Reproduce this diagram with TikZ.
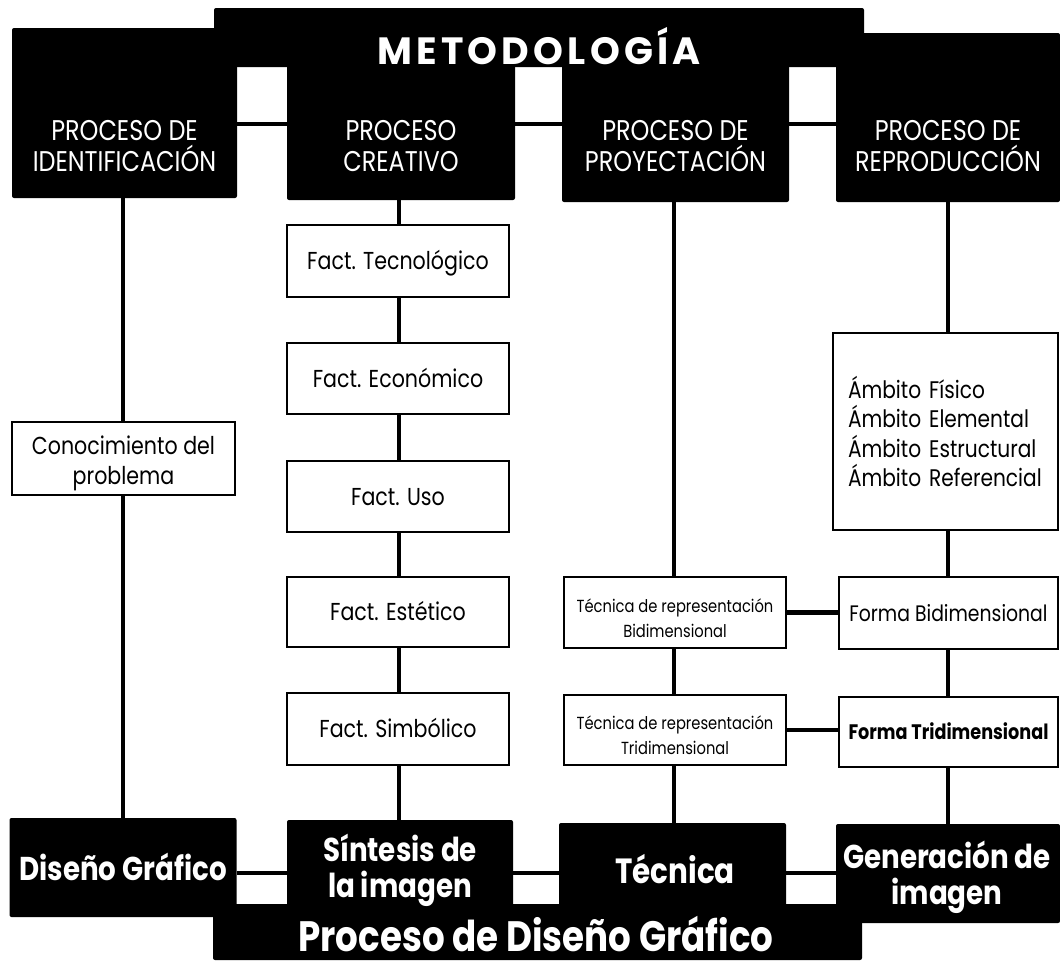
\documentclass[tikz,border=0pt]{standalone}
\usepackage{fontspec}
\setmainfont{Poppins}
\newfontfamily\fut[FakeStretch=0.84]{Poppins}
\begin{document}
\begin{tikzpicture}[x=1pt,y=-1pt,
  blk/.style={fill=black, draw=none, rounded corners=2pt, inner sep=0pt},
  wbox/.style={draw=black, line width=1.6pt, fill=white, inner sep=0pt, align=center,
    text height=17.5pt, text depth=0pt, font=\fut\fontsize{24.5}{30}\selectfont},
  conn/.style={line width=4.5pt},
  head/.style={text=white, align=center, inner sep=0pt, font=\fut\fontsize{28.5}{31}\selectfont},
  bhead/.style={text=white, align=center, inner sep=0pt, font=\fut\bfseries\fontsize{33}{36}\selectfont}]
\useasboundingbox (0,0) rectangle (1060,962);
\fill[white] (0,0) rectangle (1060,962);
% column coordinates
\coordinate (c1) at (123,0);
\coordinate (c2) at (399,0);
\coordinate (c3) at (674,0);
\coordinate (c4) at (948,0);
\coordinate (r1) at (0,124);
\coordinate (r2) at (0,873);
% black boxes
\node[blk, minimum width=650pt, minimum height=59pt] (met) at (539,37.5) {};
\node[blk, minimum width=225pt, minimum height=170pt] (idb) at (124.5,113) {};
\node[blk, minimum width=228pt, minimum height=140pt] (cre) at (401,130) {};
\node[blk, minimum width=227pt, minimum height=142pt] (pro) at (675.5,131) {};
\node[blk, minimum width=224pt, minimum height=169pt] (rep) at (948,117.5) {};
\node[blk, minimum width=649pt, minimum height=56pt] (bot) at (537.5,932) {};
\node[blk, minimum width=227pt, minimum height=99pt] (dg) at (123,867.5) {};
\node[blk, minimum width=226pt, minimum height=95pt] (sin) at (400,867.5) {};
\node[blk, minimum width=227pt, minimum height=92pt] (tec) at (672.5,869) {};
\node[blk, minimum width=224pt, minimum height=99pt] (gen) at (948,873.5) {};
% texts in black boxes
\node[text=white, inner sep=0pt, font=\bfseries\fontsize{38}{40}\selectfont\addfontfeatures{LetterSpace=11}] (metT) at (539,46) {METODOLOGÍA};
\node[head] (idT) at (124.5,146.5) {PROCESO DE\\IDENTIFICACIÓN};
\node[head] (creT) at (401,146.5) {PROCESO\\CREATIVO};
\node[head] (proT) at (675.5,146.5) {PROCESO DE\\PROYECTACIÓN};
\node[head] (repT) at (948,146.5) {PROCESO DE\\REPRODUCCIÓN};
\node[bhead] (dgT) at (123,867) {Diseño Gráfico};
\node[bhead] (sinT) at (400,870) {Síntesis de\\la imagen};
\node[bhead, font=\fut\bfseries\fontsize{35}{36}\selectfont] (tecT) at (675,869) {Técnica};
\node[bhead] (genT) at (947,877.5) {Generación de\\imagen};
\node[text=white, inner sep=0pt, text height=30pt, text depth=0pt, font=\fut\bfseries\fontsize{42.5}{44}\selectfont] (botT) at (536,936) {Proceso de Diseño Gráfico};
% white boxes
\node[wbox, minimum width=223pt, minimum height=73pt, text height=51pt] (con) at (123.5,458.5) {Conocimiento del\\problema};
\node[wbox, minimum width=222pt, minimum height=72pt] (f1) at (398,261) {Fact. Tecnológico};
\node[wbox, minimum width=222pt, minimum height=71pt] (f2) at (398,378.5) {Fact. Económico};
\node[wbox, minimum width=222pt, minimum height=71pt] (f3) at (398,496.5) {Fact. Uso};
\node[wbox, minimum width=222pt, minimum height=70pt] (f4) at (398,612) {Fact. Estético};
\node[wbox, minimum width=222pt, minimum height=72pt] (f5) at (398,729) {Fact. Simbólico};
\node[wbox, minimum width=222pt, minimum height=71pt, text height=50pt, font=\fut\fontsize{17.5}{25}\selectfont] (tb) at (675,612.5) {Técnica de representación\\Bidimensional};
\node[wbox, minimum width=222pt, minimum height=70pt, text height=48pt, font=\fut\fontsize{17.5}{25}\selectfont] (tt) at (675,730) {Técnica de representación\\Tridimensional};
\node[wbox, minimum width=225pt, minimum height=197pt, align=left, text width=195pt, inner xsep=15pt, text height={}, text depth={}, font=\fut\fontsize{24}{29.5}\selectfont] (amb) at (945.5,431.5) {Ámbito Físico\\Ámbito Elemental\\Ámbito Estructural\\Ámbito Referencial};
\node[wbox, minimum width=219pt, minimum height=72pt, text height=16pt, font=\fut\fontsize{22.4}{24}\selectfont] (fb) at (948.5,613) {Forma Bidimensional};
\node[wbox, minimum width=219pt, minimum height=70pt, text height=15pt, font=\fut\bfseries\fontsize{21}{24}\selectfont] (ft) at (948.5,732) {Forma Tridimensional};
% connectors
\draw[conn] (idb.east |- r1) -- (cre.west |- r1);
\draw[conn] (cre.east |- r1) -- (pro.west |- r1);
\draw[conn] (pro.east |- r1) -- (rep.west |- r1);
\draw[conn] (dg.east |- r2) -- (sin.west |- r2);
\draw[conn] (sin.east |- r2) -- (tec.west |- r2);
\draw[conn] (tec.east |- r2) -- (gen.west |- r2);
\draw[conn] (idb.south -| c1) -- (con.north -| c1);
\draw[conn] (con.south -| c1) -- (dg.north -| c1);
\draw[conn] (cre.south -| c2) -- (f1.north -| c2);
\draw[conn] (f1.south -| c2) -- (f2.north -| c2);
\draw[conn] (f2.south -| c2) -- (f3.north -| c2);
\draw[conn] (f3.south -| c2) -- (f4.north -| c2);
\draw[conn] (f4.south -| c2) -- (f5.north -| c2);
\draw[conn] (f5.south -| c2) -- (sin.north -| c2);
\draw[conn] (pro.south -| c3) -- (tb.north -| c3);
\draw[conn] (tb.south -| c3) -- (tt.north -| c3);
\draw[conn] (tt.south -| c3) -- (tec.north -| c3);
\draw[conn] (rep.south -| c4) -- (amb.north -| c4);
\draw[conn] (amb.south -| c4) -- (fb.north -| c4);
\draw[conn] (fb.south -| c4) -- (ft.north -| c4);
\draw[conn] (ft.south -| c4) -- (gen.north -| c4);
\draw[conn] (tb.east) -- (tb.east -| fb.west);
\draw[conn] (tt.east) -- (tt.east -| ft.west);
\end{tikzpicture}
\end{document}
